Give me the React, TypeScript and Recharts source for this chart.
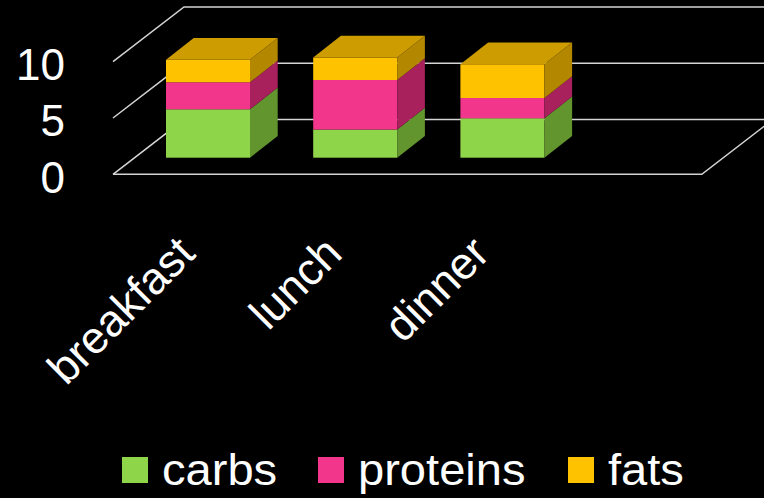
import { BarChart, Bar, XAxis, YAxis, CartesianGrid, Legend, ReferenceLine } from "recharts";

// meal categories (4th slot is the empty one left on the floor)
const categories = ["breakfast", "lunch", "dinner", ""];
const carbs = [4.3, 2.5, 3.5, null];
const proteins = [2.4, 4.4, 1.8, null];
const fats = [2, 2, 3, null];
const yTicks = [0, 5, 10];

const SERIES = [
  { key: "carbs", front: "#8fd549", side: "#63952f", top: "#74ac3b" },
  { key: "proteins", front: "#f1368b", side: "#a8215d", top: "#c42a72" },
  { key: "fats", front: "#ffc200", side: "#b38700", top: "#cc9c00" },
];

const data = categories.map((name, i) => ({
  name,
  carbs: carbs[i],
  proteins: proteins[i],
  fats: fats[i],
}));

/* oblique "3d" offsets, measured from the bar front plane */
const FRONT = { dx: -21.5, dy: 16.6 };
const BACK = { dx: 49.5, dy: -38.1 };
const DEPTH = { dx: 27.7, dy: -21.7 };
const LINE = "#d4d4d4";
const FONT = "'Liberation Sans', Arial, sans-serif";

function Box3D(props: any) {
  const { x, y, width, height, front, side, top, cap } = props;
  if (!width || !height || height <= 0) return null;
  const { dx, dy } = DEPTH;
  const r = x + width;
  return (
    <g>
      <rect x={x} y={y} width={width} height={height} fill={front} />
      <polygon
        points={`${r},${y} ${r + dx},${y + dy} ${r + dx},${y + height + dy} ${r},${y + height}`}
        fill={side}
      />
      {cap && (
        <polygon points={`${x},${y} ${x + dx},${y + dy} ${r + dx},${y + dy} ${r},${y}`} fill={top} />
      )}
    </g>
  );
}

// side wall diagonal + back wall line for each value tick
function WallLine(props: any) {
  const { x1, y1, x2 } = props;
  const fx = x1 + FRONT.dx, fy = y1 + FRONT.dy;
  const bx = x1 + BACK.dx, by = y1 + BACK.dy;
  return (
    <path
      d={`M${fx},${fy} L${bx},${by} L${x2 + BACK.dx},${by}`}
      stroke={LINE}
      strokeWidth={1.5}
      fill="none"
    />
  );
}

function FloorEdge(props: any) {
  const { x1, y1, x2 } = props;
  const fy = y1 + FRONT.dy;
  return (
    <path
      d={`M${x1 + FRONT.dx},${fy} L${x2 + FRONT.dx},${fy} L${x2 + BACK.dx},${y1 + BACK.dy}`}
      stroke={LINE}
      strokeWidth={1.5}
      fill="none"
    />
  );
}

function ValTick({ y, payload }: any) {
  return (
    <text x={65} y={y + 35} textAnchor="end" fill="#fff" fontSize={44} fontFamily={FONT}>
      {payload.value}
    </text>
  );
}

function CatTick({ x, y, payload }: any) {
  if (!payload.value) return null;
  const ax = x - 11;
  const ay = y + 90;
  return (
    <text
      x={ax}
      y={ay}
      transform={`rotate(-45 ${ax} ${ay})`}
      textAnchor="end"
      fill="#fff"
      fontSize={45}
      fontFamily={FONT}
    >
      {payload.value}
    </text>
  );
}

const LEGEND_SLOTS = [121.7, 318, 568];

function MealLegend() {
  return (
    <div style={{ position: "relative", width: 764, height: 50, fontFamily: FONT }}>
      {SERIES.map((s, i) => (
        <div key={s.key} style={{ position: "absolute", left: LEGEND_SLOTS[i], top: 0 }}>
          <div
            style={{
              position: "absolute",
              left: 0,
              top: 8.7,
              width: 26,
              height: 26,
              background: s.front,
            }}
          />
          <span
            style={{
              position: "absolute",
              left: 40,
              top: 0,
              fontSize: 44,
              lineHeight: "44px",
              color: "#fff",
              whiteSpace: "nowrap",
              transform: "scaleX(1.07)",
              transformOrigin: "0 0",
            }}
          >
            {s.key}
          </span>
        </div>
      ))}
    </div>
  );
}

export default function App() {
  return (
    <div style={{ width: 764, height: 498, background: "#000", overflow: "hidden" }}>
      <style>{"body{margin:0;background:#000}"}</style>
      <BarChart
        width={764}
        height={498}
        data={data}
        margin={{ top: 45.1, right: 40.7, bottom: 310.3, left: 0 }}
        barCategoryGap="21.4%"
      >
        <CartesianGrid vertical={false} horizontal={(p: any) => <WallLine key={p.key} {...p} />} />
        <XAxis
          dataKey="name"
          height={30}
          axisLine={false}
          tickLine={false}
          interval={0}
          tick={<CatTick />}
        />
        <YAxis
          width={134.5}
          domain={[0, 10]}
          ticks={yTicks}
          axisLine={false}
          tickLine={false}
          tick={<ValTick />}
        />
        <ReferenceLine y={0} shape={(p: any) => <FloorEdge {...p} />} />
        {SERIES.map((s, i) => (
          <Bar
            key={s.key}
            dataKey={s.key}
            stackId="meal"
            fill={s.front}
            isAnimationActive={false}
            shape={(p: any) => (
              <Box3D {...p} front={s.front} side={s.side} top={s.top} cap={i === SERIES.length - 1} />
            )}
          />
        ))}
        <Legend
          verticalAlign="middle"
          layout="horizontal"
          wrapperStyle={{ top: 448, left: 0, width: 764, height: 50 }}
          content={() => <MealLegend />}
        />
      </BarChart>
    </div>
  );
}
